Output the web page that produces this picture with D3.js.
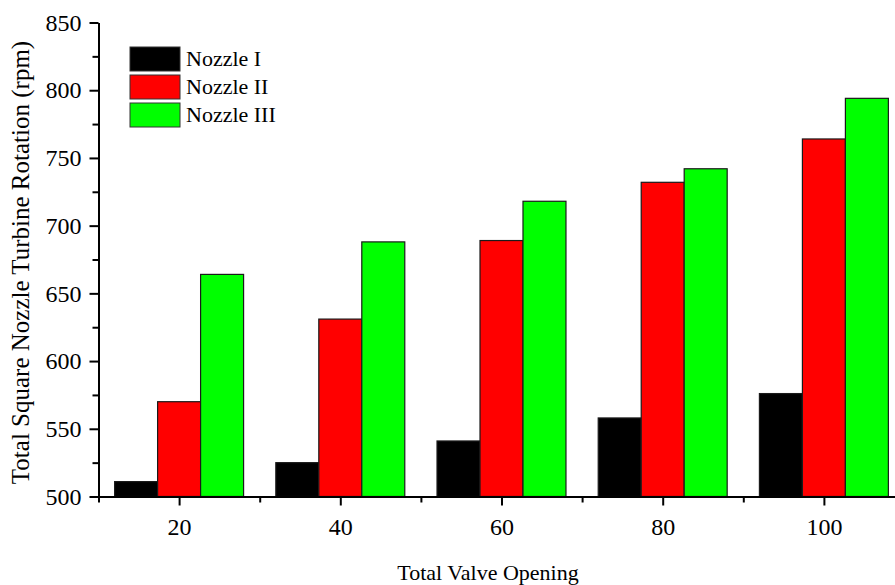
<!DOCTYPE html>
<html>
<head>
<meta charset="utf-8">
<script src="https://cdn.jsdelivr.net/npm/d3@7"></script>
<style>
  body { margin: 0; background: #fff; }
  svg { display: block; font-family: "Liberation Serif", "Times New Roman", serif; }
  .axis path, .axis line { stroke: #000; stroke-width: 2; }
  .axis text { fill: #000; }
</style>
</head>
<body>
<div id="chart"></div>
<script>
// data
const openings = [20, 40, 60, 80, 100];
const seriesNames = ["Nozzle I", "Nozzle II", "Nozzle III"];
const nozzle1 = [511, 525, 541, 558, 576];
const nozzle2 = [570, 631, 689, 732, 764];
const nozzle3 = [664, 688, 718, 742, 794];
const yTicks = [500, 550, 600, 650, 700, 750, 800, 850];
const colors = ["#000000", "#ff0000", "#00ff00"];

(function bars(){
    let width = 895, height = 585,
    margin = ({top: 22.5, right: 0, bottom: 88.5, left: 98.5})
    const serif = "'Liberation Serif', 'Times New Roman', serif";

    const svg = d3.select("#chart")
    .append("svg")
    .attr("width", width)
    .attr("height", height);

    const series = [nozzle1, nozzle2, nozzle3];

    // x runs 10..110 so the last group is cut by the right edge like the original
    let xScale = d3.scaleLinear()
    .domain([10, 110])
    .range([margin.left, 904.5]);

    let yScale = d3.scaleLinear()
    .domain([500, 850])
    .range([height - margin.bottom, margin.top]);

    let step = xScale(20) - xScale(0);
    let bw = step * 0.8 / 3;

    // bars
    series.forEach((vals, s) => {
        svg.append("g")
        .selectAll("rect")
        .data(openings.map((o, i) => ({o: o, v: vals[i]})))
        .join("rect")
        .attr("x", d => xScale(d.o) + (s - 1) * bw - bw / 2)
        .attr("y", d => yScale(d.v))
        .attr("width", bw)
        .attr("height", d => yScale(500) - yScale(d.v))
        .attr("fill", colors[s])
        .attr("stroke", "#1a1a1a")
        .attr("stroke-width", 1.2);
    });

    // x axis: major + minor ticks
    svg.append("g")
    .attr("class", "axis")
    .attr("transform", `translate(0,${yScale(500)})`)
    .call(d3.axisBottom(xScale).tickValues([10, 30, 50, 70, 90, 110]).tickSize(6).tickFormat(""))
    .call(g => g.select(".domain").remove());

    svg.append("g")
    .attr("class", "axis")
    .attr("transform", `translate(0,${yScale(500)})`)
    .call(d3.axisBottom(xScale).tickValues(openings).tickSize(9).tickPadding(9).tickSizeOuter(0))
    .attr("font-family", serif)
    .attr("font-size", 24)
    .call(g => g.selectAll("text").attr("dy", "0.85em"));

    // y axis
    svg.append("g")
    .attr("class", "axis")
    .attr("transform", `translate(${margin.left},0)`)
    .call(d3.axisLeft(yScale).tickValues(d3.range(525, 850, 50)).tickSize(6).tickFormat(""))
    .call(g => g.select(".domain").remove());

    svg.append("g")
    .attr("class", "axis")
    .attr("transform", `translate(${margin.left},0)`)
    .call(d3.axisLeft(yScale).tickValues(yTicks).tickSize(9).tickPadding(8).tickSizeOuter(0))
    .attr("font-family", serif)
    .attr("font-size", 24);

    // axis titles
    svg.append("text")
    .attr("x", 488)
    .attr("y", 580)
    .attr("text-anchor", "middle")
    .style("font-size", "22px")
    .text("Total Valve Opening");

    svg.append("text")
    .attr("transform", `translate(29,${(yScale(500) + yScale(850)) / 2 + 3}) rotate(-90)`)
    .attr("text-anchor", "middle")
    .style("font-size", "25px")
    .text("Total Square Nozzle Turbine Rotation (rpm)");

    // legend
    let legend = svg.append("g")
    .attr("transform", "translate(130,47)");

    legend.selectAll("rect")
    .data(seriesNames)
    .join("rect")
    .attr("x", 0)
    .attr("y", (d, i) => i * 28)
    .attr("width", 50)
    .attr("height", 24)
    .attr("fill", (d, i) => colors[i])
    .attr("stroke", "#333")
    .attr("stroke-width", 1);

    legend.selectAll("text")
    .data(seriesNames)
    .join("text")
    .attr("x", 56)
    .attr("y", (d, i) => i * 28 + 19)
    .style("font-size", "22px")
    .text(d => d);
})();
</script>
</body>
</html>
